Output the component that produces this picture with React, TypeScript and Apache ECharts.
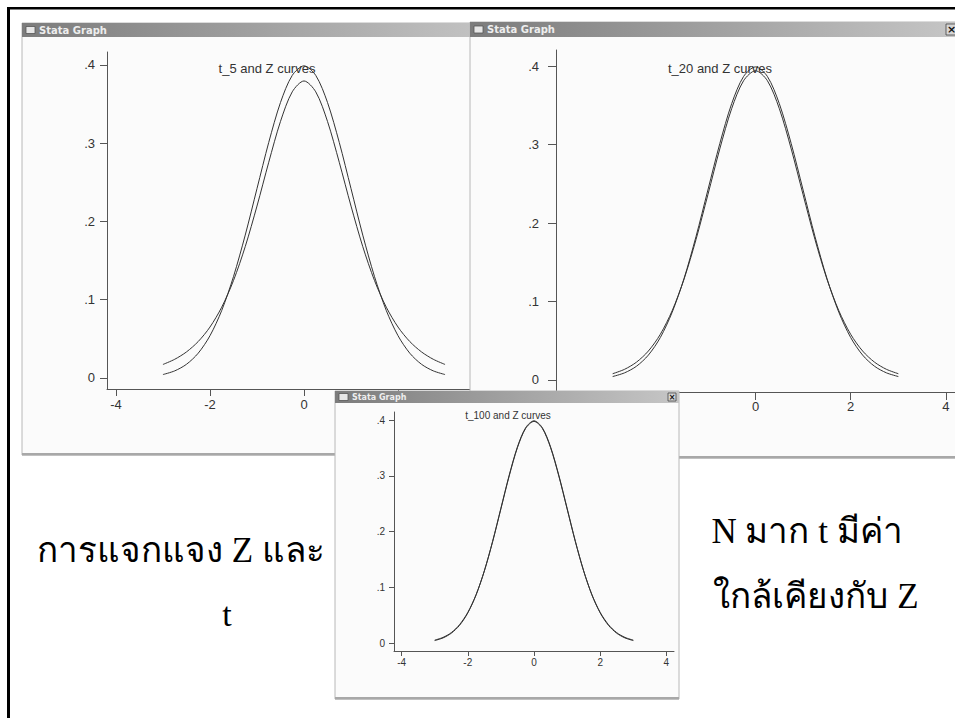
import React, { useEffect, useRef } from "react";
import * as echarts from "echarts";

// x positions where the densities are drawn (Stata range -3..3)
const xs = [-3, -2.75, -2.5, -2.25, -2, -1.75, -1.5, -1.25, -1, -0.75, -0.5, -0.25, 0, 0.25, 0.5, 0.75, 1, 1.25, 1.5, 1.75, 2, 2.25, 2.5, 2.75, 3];
const zCurve = [0.0044, 0.0091, 0.0175, 0.0317, 0.054, 0.0863, 0.1295, 0.1826, 0.242, 0.3011, 0.3521, 0.3867, 0.3989, 0.3867, 0.3521, 0.3011, 0.242, 0.1826, 0.1295, 0.0863, 0.054, 0.0317, 0.0175, 0.0091, 0.0044];
const t5Curve = [0.0173, 0.0239, 0.0333, 0.0466, 0.0651, 0.0905, 0.1245, 0.1679, 0.2197, 0.2757, 0.3279, 0.3657, 0.3796, 0.3657, 0.3279, 0.2757, 0.2197, 0.1679, 0.1245, 0.0905, 0.0651, 0.0466, 0.0333, 0.0239, 0.0173];
const t20Curve = [0.008, 0.0136, 0.0227, 0.0369, 0.0581, 0.0883, 0.1286, 0.1788, 0.236, 0.2944, 0.3458, 0.3813, 0.394, 0.3813, 0.3458, 0.2944, 0.236, 0.1788, 0.1286, 0.0883, 0.0581, 0.0369, 0.0227, 0.0136, 0.008];
const t100Curve = [0.0051, 0.01, 0.0186, 0.0329, 0.0549, 0.0867, 0.1294, 0.1819, 0.2407, 0.2997, 0.3508, 0.3855, 0.3979, 0.3855, 0.3508, 0.2997, 0.2407, 0.1819, 0.1294, 0.0867, 0.0549, 0.0329, 0.0186, 0.01, 0.0051];

const xTicks = [-4, -2, 0, 2, 4];
// tick labels that remain visible (the others are hidden behind the overlapping window)
const xLabels1 = [-4, -2, 0];
const xLabels2 = [0, 2, 4];
const xLabels3 = [-4, -2, 0, 2, 4];
const yTicks = [0, 0.1, 0.2, 0.3, 0.4];
const panelTitles = ["t_5 and Z curves", "t_20 and Z curves", "t_100 and Z curves"];
const windowTitle = "Stata Graph";
const leftText = ["การแจกแจง Z และ", "t"];
const rightText = ["N มาก t มีค่า", "ใกล้เคียงกับ Z"];

const AXIS_COLOR = "#555";
const CURVE_COLOR = "#333";

const fmtY = (v: number) => (v === 0 ? "0" : String(v).replace(/^0\./, "."));

function makeAxes(idx: number, o: { xr: number; ymin: number; ymax: number; fs: number; tickLen: number; ym: number; xm: number; z: number; xl: number[] }) {
  const xAxis = {
    type: "value", gridIndex: idx, min: -o.xr, max: o.xr, z: o.z,
    axisLine: { onZero: false, lineStyle: { color: AXIS_COLOR, width: 1 } },
    axisTick: { show: true, length: o.tickLen, customValues: xTicks, lineStyle: { color: AXIS_COLOR } },
    axisLabel: { customValues: o.xl, margin: o.xm, color: "#333", fontSize: o.fs, fontFamily: "Liberation Sans", formatter: (v: number) => String(v) },
    splitLine: { show: false },
  };
  const yAxis = {
    type: "value", gridIndex: idx, min: o.ymin, max: o.ymax, z: o.z,
    axisLine: { show: true, onZero: false, lineStyle: { color: AXIS_COLOR, width: 1 } },
    axisTick: { show: true, length: o.tickLen, customValues: yTicks, lineStyle: { color: AXIS_COLOR } },
    axisLabel: { customValues: yTicks, margin: o.ym, color: "#333", fontSize: o.fs, fontFamily: "Liberation Sans", formatter: fmtY },
    splitLine: { show: false },
  };
  return { xAxis, yAxis };
}

function windowFrame(x: number, y: number, w: number, titleH: number, h: number, z: number, fs: number, closeBtn: boolean) {
  const els: any[] = [
    { type: "rect", z, shape: { x, y, width: w, height: h }, style: { fill: "#fbfbfb", stroke: "#b8b8b8", lineWidth: 1 } },
    { type: "rect", z, shape: { x, y: y + h - 2, width: w, height: 2.5 }, style: { fill: "#a8a8a8" } },
    {
      type: "rect", z, shape: { x, y, width: w, height: titleH },
      style: { fill: new echarts.graphic.LinearGradient(0, 0, 1, 0, [{ offset: 0, color: "#7c7c7c" }, { offset: 1, color: "#c6c6c6" }]) },
    },
    { type: "rect", z, shape: { x: x + 4, y: y + titleH / 2 - 3.5, width: 9, height: 7 }, style: { fill: "#e6e6e6", stroke: "#555", lineWidth: 0.8 } },
    {
      type: "text", z, x: x + 17, y: y + titleH / 2,
      style: { text: windowTitle, fill: "#eeeeee", fontSize: fs, fontWeight: "bold", fontFamily: "DejaVu Sans", align: "left", verticalAlign: "middle" },
    },
  ];
  if (closeBtn) {
    const bw = titleH - 4;
    const bx = x + w - bw - 3;
    els.push(
      { type: "rect", z, shape: { x: bx, y: y + 2, width: bw, height: bw }, style: { fill: "#d6d6d6", stroke: "#444", lineWidth: 0.8 } },
      { type: "text", z, x: bx + bw / 2, y: y + 2 + bw / 2, style: { text: "×", fill: "#111", fontSize: bw, fontWeight: "bold", fontFamily: "DejaVu Sans", align: "center", verticalAlign: "middle" } }
    );
  }
  return els;
}

export default function App() {
  const ref = useRef<HTMLDivElement>(null);
  useEffect(() => {
    if (!ref.current) return;
    const chart = echarts.init(ref.current, null, { renderer: "svg" });

    const a1 = makeAxes(0, { xr: 4.19, ymin: -0.01406, ymax: 0.41661, fs: 13, tickLen: 7, ym: 12, xm: 9, z: 2, xl: xLabels1 });
    const a2 = makeAxes(1, { xr: 4.19, ymin: -0.0153, ymax: 0.4204, fs: 13, tickLen: 8, ym: 17, xm: 8, z: 5, xl: xLabels2 });
    const a3 = makeAxes(2, { xr: 4.23, ymin: -0.01436, ymax: 0.4147, fs: 10, tickLen: 5, ym: 9, xm: 6, z: 8, xl: xLabels3 });

    const line = (data: number[], xi: number, z: number) => ({
      type: "line", xAxisIndex: xi, yAxisIndex: xi, z, smooth: 0.3, showSymbol: false, symbol: "none",
      lineStyle: { color: CURVE_COLOR, width: 1 },
      data: xs.map((x, i) => [x, data[i]]),
    });

    const textEl = (text: string, x: number, y: number, fs: number, z: number, family: string, color = "#333") => ({
      type: "text", z, x, y, style: { text, fill: color, fontSize: fs, fontFamily: family, align: "center", verticalAlign: "middle" },
    });

    const graphics: any[] = [
      { type: "rect", z: 0, shape: { x: 0, y: 0, width: 955, height: 718 }, style: { fill: "#ffffff" } },
      ...windowFrame(22, 23, 480, 14, 432, 1, 10, false),
      textEl(panelTitles[0], 267, 68, 13, 3, "Liberation Sans"),
      ...windowFrame(470, 22, 490, 15, 436, 4, 10, true),
      textEl(panelTitles[1], 720, 68, 13, 6, "Liberation Sans"),
      ...windowFrame(335, 391, 344, 12, 308, 7, 8, true),
      textEl(panelTitles[2], 508, 415, 10, 9, "Liberation Sans"),
      // slide frame
      { type: "rect", z: 10, shape: { x: 7, y: 7, width: 948, height: 2.5 }, style: { fill: "#000" } },
      { type: "rect", z: 10, shape: { x: 7, y: 7, width: 3, height: 711 }, style: { fill: "#000" } },
      textEl(leftText[0], 181, 550, 35, 10, "Liberation Serif", "#000"),
      textEl(leftText[1], 227, 614, 34, 10, "Liberation Serif", "#000"),
      textEl(rightText[0], 807, 531, 35, 10, "Liberation Serif", "#000"),
      textEl(rightText[1], 816, 596, 35, 10, "Liberation Serif", "#000"),
    ];

    chart.setOption({
      animation: false,
      backgroundColor: "#ffffff",
      grid: [
        { left: 107, top: 52, width: 394, height: 337 },
        { left: 556, top: 50, width: 400, height: 342 },
        { left: 394, top: 412, width: 280, height: 239 },
      ],
      xAxis: [a1.xAxis, a2.xAxis, a3.xAxis],
      yAxis: [a1.yAxis, a2.yAxis, a3.yAxis],
      graphic: { elements: graphics },
      series: [
        line(zCurve, 0, 3),
        line(t5Curve, 0, 3),
        line(zCurve, 1, 6),
        line(t20Curve, 1, 6),
        line(zCurve, 2, 9),
        line(t100Curve, 2, 9),
      ],
    });
    return () => chart.dispose();
  }, []);
  return <div ref={ref} style={{ position: "absolute", left: 0, top: 0, width: 955, height: 718 }} />;
}
